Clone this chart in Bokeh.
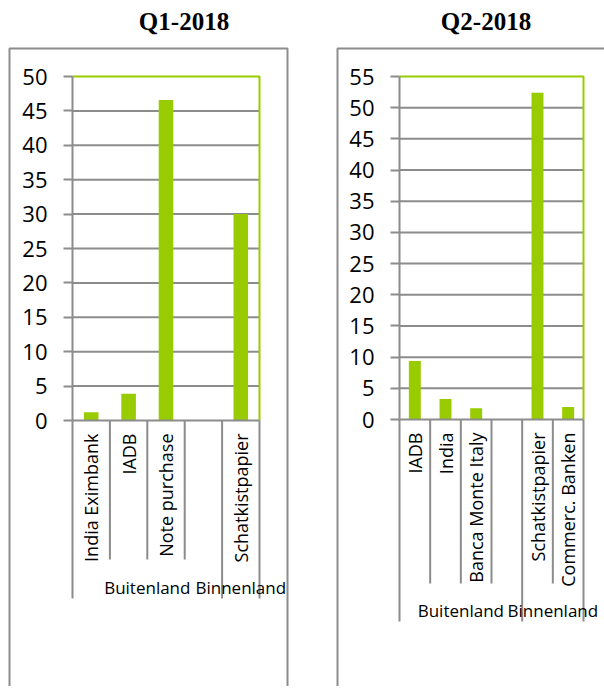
import math
from bokeh.plotting import figure
from bokeh.models import Range1d, FixedTicker, LinearAxis, Label
from bokeh.core.properties import value
from bokeh.layouts import row
from bokeh.embed import file_html
from bokeh.resources import INLINE

# ---------------- data ----------------
q1_title = "Q1-2018"
q1_categories = ["India Eximbank", "IADB", "Note purchase", "", "Schatkistpapier"]
q1_groups = ["Buitenland", "Buitenland", "Buitenland", "Buitenland", "Binnenland"]
q1_values = [1.2, 3.9, 46.6, None, 30.0]
q1_yticks = [0, 5, 10, 15, 20, 25, 30, 35, 40, 45, 50]

q2_title = "Q2-2018"
q2_categories = ["IADB", "India", "Banca Monte Italy", "", "Schatkistpapier", "Commerc. Banken"]
q2_groups = ["Buitenland", "Buitenland", "Buitenland", "Buitenland", "Binnenland", "Binnenland"]
q2_values = [9.4, 3.3, 1.8, None, 52.4, 2.0]
q2_yticks = [0, 5, 10, 15, 20, 25, 30, 35, 40, 45, 50, 55]

GREEN = "#99CC00"
GRAY = "#8C8C8C"
FONT = "Open Sans"
H = 686


def make_chart(title, cats, groups, vals, yticks, W, L, R, ytop, y0,
               box_l, box_r, box_t, title_cx, title_cy,
               sep_inner_px, sep_group_px, group_py):
    n = len(cats)
    ymax = yticks[-1]
    kx = n / (R - L)            # data units per pixel (x)
    ky = ymax / (y0 - ytop)     # data units per pixel (y)

    def dx(px):
        return 0.5 + (px - L) * kx

    def dy(py):
        return (y0 - py) * ky

    p = figure(width=W, height=H,
               x_range=Range1d(dx(0), dx(W)), y_range=Range1d(dy(H), dy(0)),
               x_axis_type=None, y_axis_type=None,
               output_backend="svg", toolbar_location=None, min_border=0)
    p.outline_line_color = None
    p.background_fill_color = "white"
    p.border_fill_color = "white"

    left_edge, right_edge = 0.5, n + 0.5

    # outer chart box
    p.multi_line(xs=[[dx(box_l), dx(box_l), dx(box_r), dx(box_r)]],
                 ys=[[dy(H + 20), dy(box_t), dy(box_t), dy(H + 20)]],
                 line_color=GRAY, line_width=2)

    # horizontal gridlines (inner ticks only; 0 is the axis, top is the green border)
    inner = yticks[1:-1]
    p.segment(x0=[left_edge] * len(inner), x1=[right_edge] * len(inner),
              y0=inner, y1=inner, line_color=GRAY, line_width=2)

    # bars
    slots = list(range(1, n + 1))
    bx = [s for s, v in zip(slots, vals) if v is not None]
    bt = [v for v in vals if v is not None]
    p.vbar(x=bx, top=bt, width=0.39, bottom=0,
           fill_color=GREEN, line_color=None)

    # green plot-area border: top and right
    p.multi_line(xs=[[left_edge, right_edge, right_edge]],
                 ys=[[ymax, ymax, 0]],
                 line_color=GREEN, line_width=2)

    # category separators (Excel style)
    group_bounds = [0]
    for i in range(1, n):
        if groups[i] != groups[i - 1]:
            group_bounds.append(i)
    group_bounds.append(n)
    sx, sy0, sy1 = [], [], []
    for k in range(n + 1):
        ln = sep_group_px if k in group_bounds else sep_inner_px
        sx.append(k + 0.5)
        sy0.append(0)
        sy1.append(dy(y0 + ln))
    p.segment(x0=sx, x1=sx, y0=sy0, y1=sy1, line_color=GRAY, line_width=2)

    # group labels
    gx, gt = [], []
    for a, b in zip(group_bounds[:-1], group_bounds[1:]):
        gx.append((a + b) / 2 + 0.5)
        gt.append(groups[a])
    p.text(x=gx, y=[dy(group_py)] * len(gx), text=gt,
           text_font=value(FONT), text_font_size=value("17px"),
           text_align="center", text_baseline="middle", text_color="black")

    # y axis
    ya = LinearAxis(fixed_location=left_edge, bounds=(0, ymax),
                    ticker=FixedTicker(ticks=yticks))
    ya.axis_line_color = GRAY
    ya.axis_line_width = 2
    ya.major_tick_line_color = GRAY
    ya.major_tick_line_width = 2
    ya.major_tick_out = 9
    ya.major_tick_in = 0
    ya.minor_tick_line_color = None
    ya.major_label_standoff = 16
    ya.major_label_text_font = FONT
    ya.major_label_text_font_size = "22px"
    ya.major_label_text_color = "black"
    p.add_layout(ya, "left")

    # category axis
    ticks = [s for s, c in zip(slots, cats) if c]
    xa = LinearAxis(fixed_location=0, bounds=(left_edge, right_edge),
                    ticker=FixedTicker(ticks=ticks),
                    major_label_overrides={s: c for s, c in zip(slots, cats) if c})
    xa.axis_line_color = GRAY
    xa.axis_line_width = 2
    xa.major_tick_line_color = None
    xa.major_tick_out = 0
    xa.major_tick_in = 0
    xa.minor_tick_line_color = None
    xa.major_label_orientation = math.pi / 2
    xa.major_label_standoff = 13
    xa.major_label_text_font = FONT
    xa.major_label_text_font_size = "18px"
    xa.major_label_text_color = "black"
    p.add_layout(xa, "below")

    # title
    p.add_layout(Label(x=dx(title_cx), y=dy(title_cy), text=title,
                       text_align="center", text_baseline="middle",
                       text_font="Liberation Serif", text_font_style="bold",
                       text_font_size="25px", text_color="black"))
    return p


p1 = make_chart(q1_title, q1_categories, q1_groups, q1_values, q1_yticks,
                W=300, L=72, R=259, ytop=76, y0=420,
                box_l=9, box_r=287, box_t=48, title_cx=183.5, title_cy=21,
                sep_inner_px=139, sep_group_px=178, group_py=587)
p2 = make_chart(q2_title, q2_categories, q2_groups, q2_values, q2_yticks,
                W=304, L=99, R=283, ytop=76, y0=419,
                box_l=37, box_r=330, box_t=48, title_cx=185.5, title_cy=21,
                sep_inner_px=164, sep_group_px=202, group_py=609.5)

layout = row(p1, p2)
open("out.html", "w").write(file_html(layout, INLINE))
